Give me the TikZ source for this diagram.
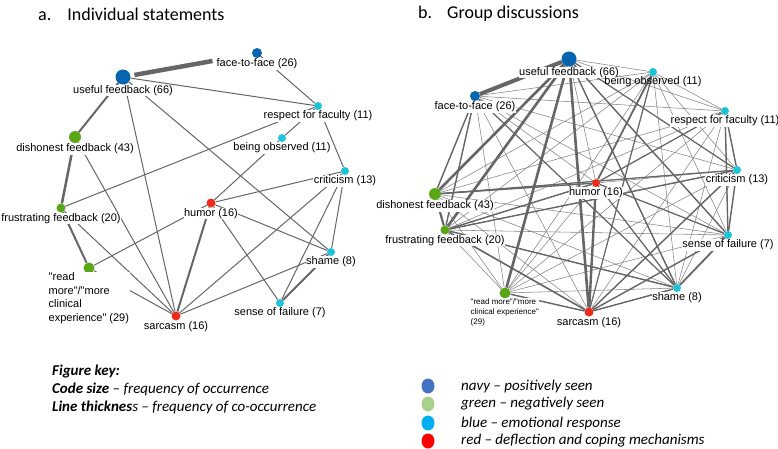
\documentclass[tikz,border=0pt]{standalone}
\usepackage{fontspec}
\setmainfont{Carlito}
\newfontfamily\codefont{Liberation Sans}
\usetikzlibrary{positioning,backgrounds,shapes.geometric}

\definecolor{codenavy}{HTML}{0565B0}
\definecolor{codegreen}{HTML}{5AA617}
\definecolor{codecyan}{HTML}{1DC3D8}
\definecolor{codered}{HTML}{EC2B1C}
\definecolor{keynavy}{HTML}{4472C4}
\definecolor{keygreen}{HTML}{A9D18E}
\definecolor{keyblue}{HTML}{00B0F0}
\definecolor{keyred}{HTML}{FF0000}
\definecolor{linkgray}{HTML}{666666}

\tikzset{
  codedot/.style={circle, inner sep=0pt, draw=none},
  codelab/.style={font=\codefont\fontsize{11}{13}\selectfont, inner sep=0.5pt, fill=white},
  link/.style={draw=linkgray},
  linkfaint/.style={draw=linkgray!80, line width=0.55pt},
  title/.style={font=\fontsize{18}{22}\selectfont, anchor=west, inner sep=0pt},
  keytext/.style={font=\itshape\fontsize{15}{18}\selectfont, anchor=west, inner sep=0pt},
  keydot/.style={ellipse, minimum width=13, minimum height=15, inner sep=0pt},
}

\begin{document}
\begin{tikzpicture}[x=1pt, y=-1pt]
  \useasboundingbox (0,0) rectangle (778,449);

  % titles
  \node[title] (ta) at (38,14) {a.\hspace{16pt}Individual statements};
  \node[title] (tb) at (418,14) {b.\hspace{15pt}Group discussions};

  % a. individual statements
  \foreach \n/\x/\y/\s/\c/\t in {
      uf/123/77/15/codenavy/{useful feedback (66)},
      ff/257/53/10/codenavy/{face-to-face (26)},
      rf/318/106/8/codecyan/{respect for faculty (11)},
      bo/282/138/8/codecyan/{being observed (11)},
      df/75/137/12/codegreen/{dishonest feedback (43)},
      cr/345/171/8/codecyan/{criticism (13)},
      fr/61/208/9/codegreen/{frustrating feedback (20)},
      hu/211/203/9/codered/{humor (16)},
      sh/331/252/8/codecyan/{shame (8)},
      sa/176/316/9/codered/{sarcasm (16)},
      sf/280/303/8/codecyan/{sense of failure (7)}}{
    \node[codedot, minimum size=\s, fill=\c] (a-\n) at (\x,\y) {};
    \node[codelab, below=0pt of a-\n] (a-\n-l) {\t};
  }
  \node[codedot, minimum size=11, fill=codegreen] (a-rm) at (89,268) {};
  \node[codelab, anchor=north west, align=left, font=\codefont\fontsize{11}{13.5}\selectfont]
    (a-rm-l) at (48,272) {"read\\more"/"more\\clinical\\experience" (29)};

  \begin{scope}[on background layer]
    \draw[link, line width=4.5, shorten <=4, shorten >=40] (a-uf) -- (a-ff);
    \foreach \p/\q/\w in {uf/rf/1, ff/rf/1, uf/df/2, uf/sa/1, uf/sh/1,
        rf/fr/1, rf/bo/1, rf/cr/1, bo/hu/1, df/fr/2.5, df/sa/1, cr/hu/1, cr/sa/1,
        cr/sh/1, cr/sf/1, fr/rm/2, fr/sa/1, hu/rm/1, hu/sa/2, hu/sh/1, hu/sf/1,
        rm/sa/1, sh/sa/1, sh/sf/2}
      \draw[link, line width=\w] (a-\p) -- (a-\q);
  \end{scope}

  % b. group discussions
  \foreach \n/\x/\y/\s/\c/\t in {
      ff/475/96/10/codenavy/{face-to-face (26)},
      rf/725/111/8/codecyan/{respect for faculty (11)},
      cr/737/170/8/codecyan/{criticism (13)},
      hu/596/183/8/codered/{humor (16)},
      df/435/194/12/codegreen/{dishonest feedback (43)},
      fr/445/230/9/codegreen/{frustrating feedback (20)},
      sf/728/235/8/codecyan/{sense of failure (7)},
      sh/677/288/8/codecyan/{shame (8)},
      sa/589/312/9/codered/{sarcasm (16)},
      uf/569/59/15/codenavy/{useful feedback (66)}}{
    \node[codedot, minimum size=\s, fill=\c] (b-\n) at (\x,\y) {};
    \node[codelab, below=0pt of b-\n] (b-\n-l) {\t};
  }
  \node[codedot, minimum size=8, fill=codecyan] (b-bo) at (653,72) {};
  \node[codelab, fill=none, below=0pt of b-bo] (b-bo-l) {being observed (11)};
  \node[codedot, minimum size=11, fill=codegreen] (b-rm) at (505,293) {};
  \node[codelab, anchor=north west, align=left, font=\codefont\fontsize{8}{10}\selectfont]
    (b-rm-l) at (470,298) {"read more"/"more\\clinical experience"\\(29)};

  \begin{scope}[on background layer]
    \foreach \p [count=\i] in {uf,bo,ff,rf,cr,hu,df,fr,sf,sh,rm,sa}
      \foreach \q [count=\j] in {uf,bo,ff,rf,cr,hu,df,fr,sf,sh,rm,sa}
        {\ifnum\i<\j \draw[linkfaint] (b-\p) -- (b-\q); \fi}
    \foreach \p/\q/\w in {uf/ff/4, uf/df/2.6, uf/fr/2.6, uf/rm/2.6, uf/sa/2.6,
        hu/sa/2.4, df/fr/2.2, bo/hu/1.8, fr/hu/1.4, fr/cr/1.4, fr/sa/1.6, fr/sh/1.4,
        df/hu/1.4, df/cr/1.2, rm/sa/1.4, sh/sf/1.8, sh/sa/1.4, sf/sa/1.4, cr/sa/1.4,
        cr/sf/1.4, rf/sf/1.4, rf/cr/1.4, uf/sh/1.4, uf/sf/1.4, uf/cr/1.2, ff/df/1.4,
        ff/fr/1.4, ff/sh/1.2, hu/sf/1.2, hu/sh/1.2, rf/hu/1.2, bo/sa/1.2}
      \draw[link, line width=\w] (b-\p) -- (b-\q);
  \end{scope}

  % figure key
  \node[keytext] (k1) at (52,371) {\bfseries Figure key:};
  \node[keytext] (k2) at (52,389) {\textbf{Code size} -- frequency of occurrence};
  \node[keytext] (k3) at (52,407) {\textbf{Line thicknes}s -- frequency of co-occurrence};

  \foreach \c/\y/\t [count=\i] in {keynavy/386/{navy -- positively seen},
      keygreen/404/{green -- negatively seen}, keyblue/423/{blue -- emotional response},
      keyred/441/{red -- deflection and coping mechanisms}}{
    \node[keydot, fill=\c] (kd\i) at (428,\y) {};
    \node[keytext] (kt\i) at (461,\y) {\t};
  }
\end{tikzpicture}
\end{document}
